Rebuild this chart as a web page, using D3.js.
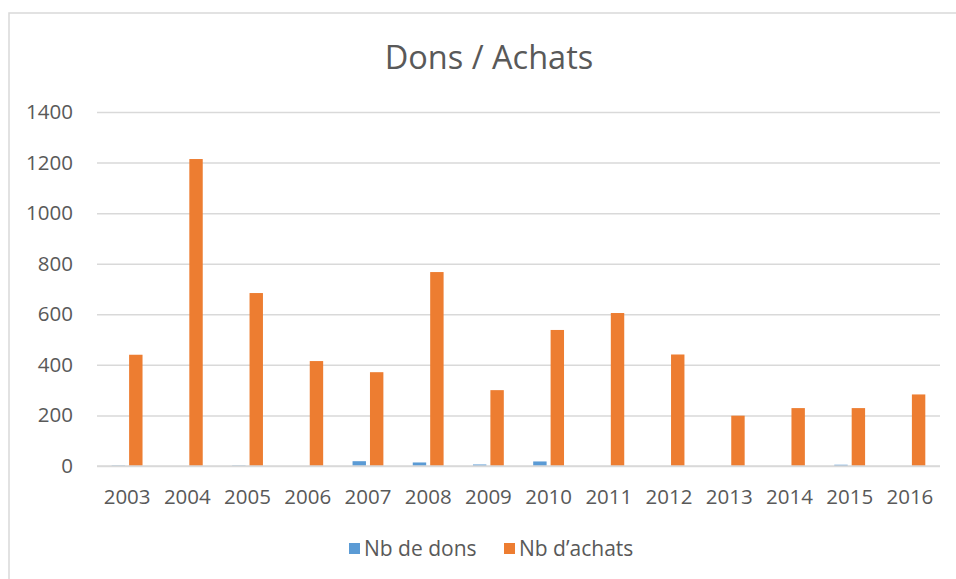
<!DOCTYPE html>
<html>
<head>
<meta charset="utf-8">
<script src="https://cdn.jsdelivr.net/npm/d3@7"></script>
<style>
  html, body { margin: 0; padding: 0; background: #fff; }
  svg { display: block; }
</style>
</head>
<body>
<div id="chart"></div>
<script>
// ── Data ────────────────────────────────────────────────────────
const YEARS = ['2003', '2004', '2005', '2006', '2007', '2008', '2009',
               '2010', '2011', '2012', '2013', '2014', '2015', '2016'];
const DONS   = [2, 0, 2, 0, 19, 14, 6, 18, 0, 0, 0, 0, 5, 0];
const ACHATS = [440, 1214, 684, 415, 371, 767, 300, 538, 605, 441, 199, 229, 229, 283];
const SERIES = ['Nb de dons', 'Nb d\u2019achats'];
const Y_TICKS = [0, 200, 400, 600, 800, 1000, 1200, 1400];

// ── Style ───────────────────────────────────────────────────────
const COLORS = ['#5b9bd5', '#ed7d31'];
const GRID = '#d9d9d9';
const TEXT = '#595959';
const FONT = "'Open Sans', 'Noto Sans', sans-serif";
const FS = 20.5;

const W = 956, H = 579;
const plot = { left: 97, right: 940, top: 112, bottom: 466 };

const svg = d3.select('#chart').append('svg')
  .attr('width', W).attr('height', H)
  .attr('viewBox', `0 0 ${W} ${H}`);

// chart frame (right and bottom edges fall outside the picture)
svg.append('rect')
  .attr('x', 9).attr('y', 13).attr('width', 980).attr('height', 600)
  .attr('fill', '#fff').attr('stroke', GRID).attr('stroke-width', 1.5);

// ── Scales ──────────────────────────────────────────────────────
const x = d3.scaleBand().domain(YEARS)
  .range([plot.left, plot.right])
  .paddingInner(0.488).paddingOuter(0.244);
const xs = d3.scaleBand().domain(SERIES)
  .range([0, x.bandwidth()])
  .paddingInner(0.23);
const y = d3.scaleLinear().domain([0, 1400]).range([plot.bottom, plot.top]);

// ── Grid + y labels ─────────────────────────────────────────────
const yAxis = svg.append('g')
  .attr('transform', `translate(${plot.left},0)`)
  .call(d3.axisLeft(y).tickValues(Y_TICKS).tickFormat(d3.format('d'))
    .tickSize(-(plot.right - plot.left)).tickPadding(24));
yAxis.select('.domain').remove();
yAxis.selectAll('.tick line').attr('stroke', GRID).attr('stroke-width', 1.5);
yAxis.selectAll('.tick text')
  .attr('fill', TEXT).attr('font-family', FONT).attr('font-size', FS);

// ── Bars ────────────────────────────────────────────────────────
const rows = YEARS.map((yr, i) => ({ year: yr, values: [DONS[i], ACHATS[i]] }));
const groups = svg.append('g').selectAll('g')
  .data(rows).join('g')
  .attr('transform', d => `translate(${x(d.year)},0)`);
groups.selectAll('rect')
  .data(d => d.values.map((v, k) => ({ series: SERIES[k], value: v, k })))
  .join('rect')
  .attr('x', d => xs(d.series))
  .attr('width', xs.bandwidth())
  .attr('y', d => y(d.value))
  .attr('height', d => y(0) - y(d.value))
  .attr('fill', d => COLORS[d.k]);

// baseline drawn over the bars
svg.append('line')
  .attr('x1', plot.left).attr('x2', plot.right)
  .attr('y1', y(0)).attr('y2', y(0))
  .attr('stroke', GRID).attr('stroke-width', 1.5);

// ── X labels ────────────────────────────────────────────────────
const xAxis = svg.append('g')
  .attr('transform', `translate(0,${plot.bottom})`)
  .call(d3.axisBottom(x).tickSize(0).tickPadding(23));
xAxis.select('.domain').remove();
xAxis.selectAll('.tick text')
  .attr('fill', TEXT).attr('font-family', FONT).attr('font-size', FS);

// ── Title ───────────────────────────────────────────────────────
svg.append('text')
  .attr('x', 489).attr('y', 69)
  .attr('text-anchor', 'middle')
  .attr('fill', TEXT).attr('font-family', FONT).attr('font-size', 32.5)
  .text('Dons / Achats');

// ── Legend ──────────────────────────────────────────────────────
const legendX = [349, 504];
const legend = svg.append('g').selectAll('g')
  .data(SERIES).join('g')
  .attr('transform', (d, i) => `translate(${legendX[i]},549)`);
legend.append('rect')
  .attr('x', 0).attr('y', -6).attr('width', 11).attr('height', 11)
  .attr('fill', (d, i) => COLORS[i]);
legend.append('text')
  .attr('x', 15).attr('y', 0).attr('dy', '0.35em')
  .attr('fill', TEXT).attr('font-family', FONT).attr('font-size', 21)
  .text(d => d);
</script>
</body>
</html>
